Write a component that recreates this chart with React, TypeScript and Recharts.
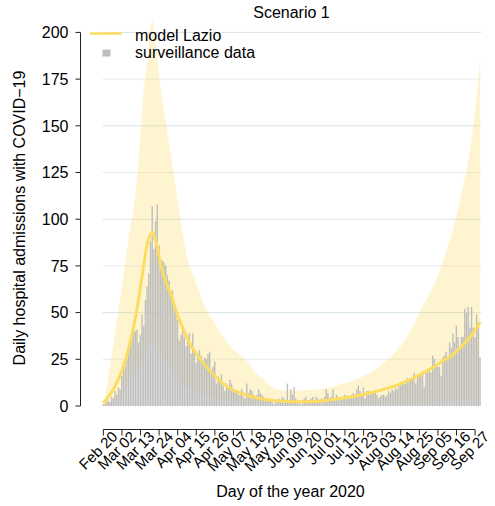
import { Area, Bar, CartesianGrid, ComposedChart, Label, Legend, Line, XAxis, YAxis } from 'recharts'

const FONT = '"Liberation Sans", Arial, Helvetica, sans-serif'

// x axis: one category per day, day 0 = Feb 20 2020
const tickLabels = [
  'Feb 20', 'Mar 02', 'Mar 13', 'Mar 24', 'Apr 04', 'Apr 15', 'Apr 26', 'May 07', 'May 18', 'May 29', 'Jun 09',
  'Jun 20', 'Jul 01', 'Jul 12', 'Jul 23', 'Aug 03', 'Aug 14', 'Aug 25', 'Sep 05', 'Sep 16', 'Sep 27',
]
const yTicks = [0, 25, 50, 75, 100, 125, 150, 175, 200]

// surveillance data, daily admissions
const admissions = [
  1, 1, 2, 3, 2, 5, 4, 8, 6, 10, 9, 16, 19, 21, 25, 30, 34, 37, 42, 40, 41, 34, 38, 49, 43, 57, 64, 71, 88, 107,
  84, 99, 108, 86,
  78, 78, 77, 75, 70, 67, 60, 62, 52, 50, 46, 35, 38, 42, 37, 32, 35, 39, 28, 39, 30, 23, 28, 30, 27, 24, 26, 25,
  28, 29, 19, 21, 24, 12, 16, 13, 17, 11, 8, 12, 10,
  14, 12, 9, 9, 7, 6, 6, 9, 5, 4, 12, 7, 9, 8, 6, 5, 6, 9, 7, 6, 5, 4, 3, 4, 3, 2, 1, 2, 2, 4, 3, 5, 4, 3, 12, 3,
  9, 6,
  10, 4, 2, 3, 1, 3, 4, 5, 3, 3, 4, 5, 3, 5, 4, 3, 4, 2, 5, 9, 7, 4, 5, 9, 4, 6, 5, 3, 4, 5, 6, 5, 5, 4, 6, 7, 6,
  9, 11,
  8, 6, 10, 4, 8, 8, 6, 8, 8, 8, 6, 4, 5, 6, 6, 5, 6, 8, 7, 9, 8, 10, 9, 12, 11, 13, 12, 12, 15, 14, 15, 15, 18,
  12, 16,
  16, 16, 17, 10, 18, 18, 20, 18, 27, 25, 22, 21, 21, 16, 26, 27, 29, 26, 34, 31, 39, 34, 43, 37, 32, 37, 37, 52,
  50, 53, 42, 53, 42, 37, 49, 44, 26,
]

// model Lazio, read at these days
const modelDays = [
  0, 3, 6, 9, 12, 15, 17, 20, 22, 24, 26, 28, 29, 30, 32, 34, 36, 38, 40, 43, 46, 49, 52, 55, 60, 65, 71, 76, 81,
  86, 91, 96, 101, 106, 111, 120, 130, 140, 150, 160, 170, 180, 190, 200, 206, 212, 218, 223,
]
const modelValues = [
  1.5, 5, 9, 14.5, 21.5, 31, 38.5, 52.5, 64, 76, 87, 92, 93, 91, 85, 75, 69, 64, 60, 51, 44, 37.5, 32, 28, 22, 17,
  12, 9, 7, 5.5, 4.3, 3.5, 2.9, 2.5, 2.3, 2.3, 2.8, 4, 5.5, 7.5, 10, 13.5, 18, 23.5, 27, 32, 38, 45,
]

// uncertainty band of the model
const bandDays = [
  0, 2, 4, 6, 8, 10, 12, 14, 16, 18, 20, 22, 24, 26, 28, 29, 30, 32, 34, 37, 40, 42, 46, 50, 54, 58, 62, 66, 70, 75,
  80, 85, 90, 95, 100, 110, 120, 130, 140, 150, 160, 167, 175, 183, 188, 193, 198, 203, 207, 211, 214, 217, 220, 223,
]
const bandLower = [
  0, 0.2, 0.6, 1.2, 2.2, 4, 6.5, 10, 13.5, 16.5, 19, 22, 26, 30, 34, 34.5, 34, 32, 29, 25, 20, 17.5, 12.5, 10, 8,
  6.5, 5.2, 4.2, 3.4, 2.5, 2, 1.7, 1.5, 1.4, 1.3, 1.2, 1.2, 1.2, 1.3, 1.4, 1.5, 1.6, 1.7, 1.9, 2, 2.2, 2.4, 2.6, 2.8,
  3, 3.2, 3.4, 3.6, 3.8,
]
const bandUpper = [
  0.5, 10, 22, 33, 46, 58, 70, 84, 96, 106, 122, 146, 170, 184, 202, 207, 200, 185, 170, 152, 134, 122, 98, 78, 68,
  58, 50, 44, 38, 32, 28, 24, 18, 14, 10, 8, 8.6, 9.2, 11.5, 14.5, 19, 24, 31, 42, 52, 60, 70, 83, 95, 110, 122, 137,
  158, 185,
]

const modelByDay = new Map(modelDays.map((d, i) => [d, modelValues[i]]))
const bandByDay = new Map(bandDays.map((d, i) => [d, [bandLower[i], bandUpper[i]]]))

const data = admissions.map((value, day) => ({
  day,
  admissions: value,
  model: modelByDay.get(day) ?? null,
  band: bandByDay.get(day) ?? null,
}))

const W = 495
const H = 506
const PLOT_LEFT = 102.5
const PLOT_RIGHT = 481
const PLOT_TOP = 10
const PLOT_BOTTOM = 406
const Y_MAX = 212
const DAY_PX = (PLOT_RIGHT - PLOT_LEFT) / admissions.length
const UNIT_PX = (PLOT_BOTTOM - PLOT_TOP) / Y_MAX
const X_AXIS_Y = 429.5
const Y_AXIS_X = 80.5

const YELLOW = '#fcdd62'
const GREY = '#bebebe'

function XTick(props: any) {
  const { x, payload } = props
  const day = payload.value as number
  const label = tickLabels[day / 11]
  const tx = x + 15
  const ty = X_AXIS_Y + 8
  return (
    <g>
      {day === 0 && (
        <line x1={x} x2={x + 220 * DAY_PX} y1={X_AXIS_Y} y2={X_AXIS_Y} stroke="#222" />
      )}
      <line x1={x} x2={x} y1={X_AXIS_Y} y2={X_AXIS_Y + 6} stroke="#222" />
      <text
        x={tx}
        y={ty}
        transform={`rotate(-45 ${tx} ${ty})`}
        textAnchor="end"
        fontSize={15}
        fontFamily={FONT}
        fill="#000"
      >
        {label}
      </text>
    </g>
  )
}

function YTick(props: any) {
  const { y, payload } = props
  return (
    <g>
      {payload.value === 0 && (
        <line x1={Y_AXIS_X} x2={Y_AXIS_X} y1={y} y2={y - 200 * UNIT_PX} stroke="#222" />
      )}
      <line x1={Y_AXIS_X - 5} x2={Y_AXIS_X} y1={y} y2={y} stroke="#222" />
      <text x={68.5} y={y} dy="0.36em" textAnchor="end" fontSize={16} fontFamily={FONT} fill="#000">
        {payload.value}
      </text>
    </g>
  )
}

function LegendBox(props: any) {
  const items = (props.payload ?? []) as any[]
  const line = items.find((p) => p.type === 'line')
  const rect = items.find((p) => p.type === 'rect')
  return (
    <svg width={300} height={70} style={{ display: 'block', overflow: 'visible' }}>
      {line && (
        <g>
          <line x1={90} x2={122} y1={33.5} y2={33.5} stroke={line.color} strokeWidth={2.5} />
          <text x={135} y={40.5} fontSize={16} fontFamily={FONT} fill="#000">
            {line.value}
          </text>
        </g>
      )}
      {rect && (
        <g>
          <rect x={102.5} y={49.5} width={8} height={7} fill={rect.color} />
          <text x={135} y={58.3} fontSize={16} fontFamily={FONT} fill="#000">
            {rect.value}
          </text>
        </g>
      )}
    </svg>
  )
}

export default function App() {
  return (
    <div style={{ position: 'absolute', left: 0, top: 0, width: W, height: H, background: '#fff' }}>
      <ComposedChart
        width={W}
        height={H}
        data={data}
        margin={{ top: PLOT_TOP, right: W - PLOT_RIGHT, bottom: 0, left: 0 }}
        style={{ fontFamily: FONT }}
      >
        <CartesianGrid vertical={false} horizontalValues={[25, 75, 125, 175]} stroke="#e7ebee" />
        <CartesianGrid vertical={false} horizontalValues={[50, 100, 150, 200]} stroke="#d6e2ea" />
        <XAxis
          dataKey="day"
          interval={10}
          height={H - PLOT_BOTTOM}
          tickSize={0}
          tickMargin={0}
          axisLine={false}
          tickLine={false}
          tick={(p: any) => <XTick {...p} />}
        >
          <Label
            content={() => (
              <text x={290.5} y={497} textAnchor="middle" fontSize={16} fontFamily={FONT} fill="#000">
                Day of the year 2020
              </text>
            )}
          />
        </XAxis>
        <YAxis
          width={PLOT_LEFT}
          domain={[0, Y_MAX]}
          ticks={yTicks}
          tickSize={0}
          tickMargin={0}
          axisLine={false}
          tickLine={false}
          tick={(p: any) => <YTick {...p} />}
        >
          <Label
            content={() => (
              <g>
                <text
                  x={25}
                  y={218}
                  transform="rotate(-90 25 218)"
                  textAnchor="middle"
                  fontSize={16}
                  fontFamily={FONT}
                  fill="#000"
                >
                  Daily hospital admissions with COVID−19
                </text>
                <text x={291.5} y={18.3} textAnchor="middle" fontSize={16} fontFamily={FONT} fill="#000">
                  Scenario 1
                </text>
              </g>
            )}
          />
        </YAxis>
        <Bar
          dataKey="admissions"
          name="surveillance data"
          fill={GREY}
          barSize={1.4}
          legendType="rect"
          isAnimationActive={false}
        />
        <Area
          dataKey="band"
          type="monotone"
          stroke="none"
          fill={YELLOW}
          fillOpacity={0.3}
          connectNulls
          legendType="none"
          isAnimationActive={false}
        />
        <Line
          dataKey="model"
          name="model Lazio"
          type="monotone"
          stroke={YELLOW}
          strokeWidth={3}
          dot={false}
          connectNulls
          legendType="line"
          isAnimationActive={false}
        />
        <Legend
          layout="vertical"
          align="center"
          verticalAlign="middle"
          wrapperStyle={{ left: 0, top: 0, width: 300, height: 70 }}
          content={(p: any) => <LegendBox {...p} />}
        />
      </ComposedChart>
    </div>
  )
}
